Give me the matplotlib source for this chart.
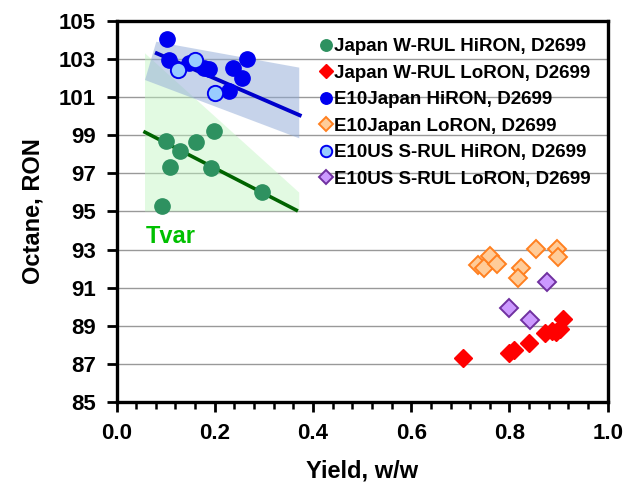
import matplotlib
matplotlib.use("Agg")
import matplotlib.pyplot as plt
from matplotlib.ticker import MultipleLocator
import numpy as np

plt.rcParams['font.family'] = ['Liberation Sans', 'DejaVu Sans']
plt.rcParams['font.weight'] = 'bold'

# ---- data ----
jp_hi_x = [0.101, 0.129, 0.162, 0.199, 0.109, 0.193, 0.296, 0.092]
jp_hi_y = [98.70, 98.19, 98.63, 99.23, 97.32, 97.30, 96.00, 95.30]

jp_lo_x = [0.706, 0.800, 0.810, 0.840, 0.872, 0.894, 0.903, 0.910, 0.886]
jp_lo_y = [87.31, 87.59, 87.73, 88.10, 88.60, 88.69, 88.82, 89.34, 88.75]

e10jp_hi_x = [0.102, 0.106, 0.148, 0.178, 0.188, 0.238, 0.265, 0.255, 0.228]
e10jp_hi_y = [104.05, 102.97, 102.78, 102.53, 102.50, 102.53, 103.00, 102.01, 101.30]

e10jp_lo_x = [0.736, 0.749, 0.761, 0.775, 0.824, 0.817, 0.854, 0.896, 0.899]
e10jp_lo_y = [92.21, 92.02, 92.65, 92.23, 92.05, 91.51, 93.02, 93.05, 92.60]

e10us_hi_x = [0.125, 0.160, 0.201]
e10us_hi_y = [102.41, 102.95, 101.22]

e10us_lo_x = [0.877, 0.800, 0.842]
e10us_lo_y = [91.32, 89.92, 89.31]

# trend lines (end points)
green_line_x = [0.058, 0.366]
green_line_y = [99.16, 95.07]
blue_line_x = [0.082, 0.373]
blue_line_y = [103.30, 100.05]

# variability bands (polygon vertices)
green_band_x = [0.058, 0.372, 0.372, 0.058]
green_band_y = [103.30, 95.99, 95.00, 95.00]
blue_band_x = [0.081, 0.372, 0.372, 0.058]
blue_band_y = [103.91, 102.55, 98.84, 101.90]

y_ticks = [85, 87, 89, 91, 93, 95, 97, 99, 101, 103, 105]
x_ticks = [0.0, 0.2, 0.4, 0.6, 0.8, 1.0]

labels = ["Japan W-RUL HiRON, D2699", "Japan W-RUL LoRON, D2699",
          "E10Japan HiRON, D2699", "E10Japan LoRON, D2699",
          "E10US S-RUL HiRON, D2699", "E10US S-RUL LoRON, D2699"]

fig = plt.figure(figsize=(6.35, 4.87), dpi=100)
ax = fig.add_axes([0.1835, 0.1745, 0.7735, 0.7825])

ax.set_xlim(0, 1.0)
ax.set_ylim(85, 105)
ax.set_xticks(x_ticks)
ax.xaxis.set_minor_locator(MultipleLocator(0.04))
ax.set_yticks(y_ticks)
ax.set_yticklabels([f"{v:d}" for v in y_ticks])
ax.set_xticklabels([f"{v:.1f}" for v in x_ticks])

ax.grid(axis='y', color='#999999', linewidth=1.0, zorder=0)
ax.set_axisbelow(True)

ax.fill(green_band_x, green_band_y, color='#C0F5C0', alpha=0.45, lw=0, zorder=1)
ax.fill(blue_band_x, blue_band_y, color='#8FA9D6', alpha=0.5, lw=0, zorder=1.1)

ax.plot(green_line_x, green_line_y, color='#006400', lw=2.6, zorder=2)
ax.plot(blue_line_x, blue_line_y, color='#0000CC', lw=2.8, zorder=2)

ms_c = 11
ms_d = 9
ax.plot(jp_hi_x, jp_hi_y, 'o', ms=ms_c, color='#2E9160', mec='#2E9160', zorder=3, label=labels[0])
ax.plot(jp_lo_x, jp_lo_y, 'D', ms=ms_d, color='#FF0000', mec='#FF0000', zorder=3, label=labels[1])
ax.plot(e10jp_hi_x, e10jp_hi_y, 'o', ms=ms_c, color='#0000F0', mec='#0000F0', zorder=3, label=labels[2])
ax.plot(e10jp_lo_x, e10jp_lo_y, 'D', ms=ms_d, mfc='#FFCC99', mec='#FF8020', mew=1.4, ls='none', zorder=3, label=labels[3])
ax.plot(e10us_hi_x, e10us_hi_y, 'o', ms=ms_c, mfc='#99CCFF', mec='#0000F0', mew=1.4, ls='none', zorder=4, label=labels[4])
ax.plot(e10us_lo_x, e10us_lo_y, 'D', ms=ms_d, mfc='#CC99FF', mec='#7030A0', mew=1.4, ls='none', zorder=3, label=labels[5])

ax.text(0.060, 93.7, "Tvar", color='#00C000', fontsize=17, fontweight='bold', va='center', ha='left')

ax.set_xlabel("Yield, w/w", fontsize=17, fontweight='bold', labelpad=11)
ax.set_ylabel("Octane, RON", fontsize=17, fontweight='bold', labelpad=10)

for s in ax.spines.values():
    s.set_linewidth(2.4)
    s.set_color('black')
ax.tick_params(axis='both', which='major', labelsize=16, width=2, length=7, color='black', pad=8)
ax.tick_params(axis='x', which='minor', width=1.8, length=5)
ax.tick_params(axis='y', which='minor', left=False)

leg = ax.legend(loc='upper left', bbox_to_anchor=(0.399, 0.975), frameon=False,
                prop={'weight': 'bold', 'size': 13.5},
                handlelength=0.6, handletextpad=0.15, labelspacing=0.5,
                borderaxespad=0, markerscale=0.75, numpoints=1)

fig.savefig("out.png", dpi=100)
